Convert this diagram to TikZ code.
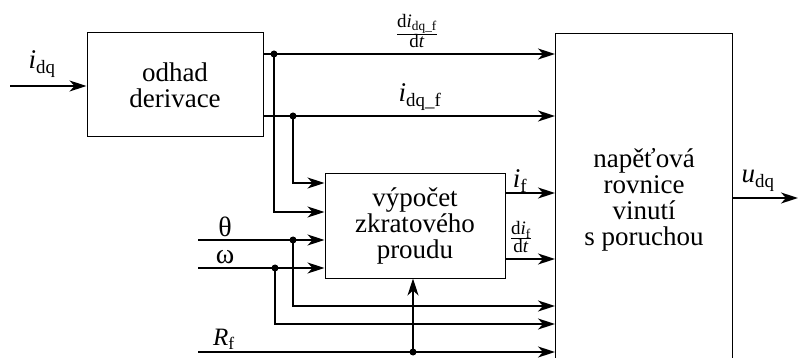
\documentclass[tikz,border=0pt]{standalone}
\usepackage{fontspec}
\setmainfont{Liberation Serif}
\usetikzlibrary{arrows.meta}
\begin{document}
\begin{tikzpicture}[x=1pt,y=-1pt,
  blk/.style={draw, line width=1pt, inner sep=0pt, align=center, font=\fontsize{27}{26}\selectfont},
  wire/.style={line width=1.8pt},
  arr/.style={wire, -{Stealth[length=17pt,width=11pt,inset=5pt]}},
  jdot/.style={circle, fill, inner sep=0pt, minimum size=7pt},
  lbl/.style={font=\fontsize{27}{27}\selectfont, inner sep=0pt},
  lbls/.style={font=\fontsize{25}{25}\selectfont, inner sep=0pt},
  grk/.style={font=\fontsize{28}{28}\selectfont, inner sep=0pt},
  frc/.style={font=\fontsize{19}{19}\selectfont, inner sep=0pt}]
\useasboundingbox (0,0) rectangle (798,358);

\node[blk, minimum width=176pt, minimum height=104pt] (od) at (175,85) {odhad\\derivace};
\node[blk, minimum width=180pt, minimum height=104pt] (vy) at (415,226) {výpočet\\zkratového\\proudu};
\node[blk, minimum width=177pt, minimum height=332pt, anchor=north west] (nr) at (555,33) {napěťová\\rovnice\\vinutí\\s poruchou};

\coordinate (in) at (10,86);
\coordinate (th) at (198,240);
\coordinate (om) at (198,268);
\coordinate (rf) at (198,352);
\coordinate (out) at (798,198);

\node[jdot] (j1) at (274,54) {};
\node[jdot] (j2) at (293,116) {};
\node[jdot] (j3) at (293,240) {};
\node[jdot] (j4) at (275,268) {};
\node[jdot] (j5) at (413,352) {};

\draw[arr] (in) -- (od.west |- in);
\draw[arr] (od.east |- j1) -- (nr.west |- j1);
\draw[arr] (od.east |- j2) -- (nr.west |- j2);
\draw[arr] (j1.center) |- (vy.west |- 0,212);
\draw[arr] (j2.center) |- (vy.west |- 0,183);
\draw[arr] (th) -- (vy.west |- th);
\draw[arr] (om) -- (vy.west |- om);
\draw[arr] (j3.center) |- (nr.west |- 0,306);
\draw[arr] (j4.center) |- (nr.west |- 0,324);
\draw[arr] (rf) -- (nr.west |- rf);
\draw[arr] (j5.center) -- (j5 |- vy.south);
\draw[arr] (vy.east |- 0,193) -- (nr.west |- 0,193);
\draw[arr] (vy.east |- 0,259) -- (nr.west |- 0,259);
\draw[arr] (nr.east |- out) -- (out);

\node[lbl] (lidq) at (42,64) {\textit{i}\textsubscript{dq}};
\node[frc] (ldidt) at (417,31) {$\frac{\mbox{d\textit{i}\textsubscript{dq\_f}}}{\mbox{d\textit{t}}}$};
\node[lbl] (lidqf) at (420,97) {\textit{i}\textsubscript{dq\_f}};
\node[grk] (lth) at (225,227) {θ};
\node[grk] (lom) at (225,257) {ω};
\node[lbls] (lrf) at (224,339) {\textit{R}\textsubscript{f}};
\node[lbl] (lif) at (520,181) {\textit{i}\textsubscript{f}};
\node[frc] (ldif) at (521,237) {$\frac{\mbox{d\textit{i}\textsubscript{f}}}{\mbox{d\textit{t}}}$};
\node[lbl] (lu) at (758,181) {\textit{u}\textsubscript{dq}};
\end{tikzpicture}
\end{document}
